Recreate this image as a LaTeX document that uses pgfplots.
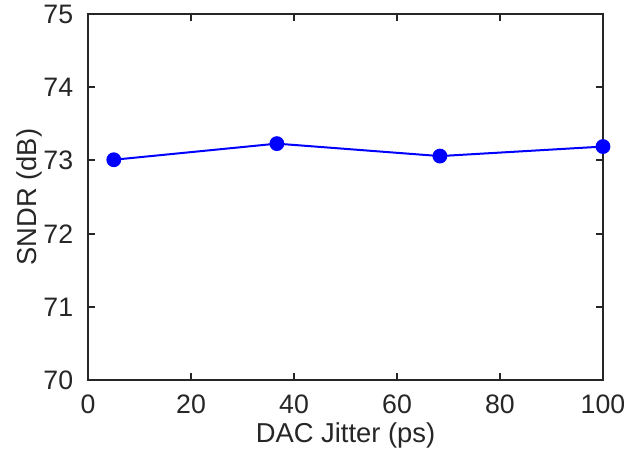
\documentclass[border=0pt]{standalone}
\usepackage{pgfplots}
\pgfplotsset{compat=1.18}
\usepackage{fontspec}
\setmainfont{Liberation Sans}
\definecolor{axgray}{RGB}{38,38,38}
\begin{document}
\begin{tikzpicture}
\begin{axis}[
  scale only axis,
  width=386pt, height=274.5pt,
  xmin=0, xmax=100, ymin=70, ymax=75,
  xtick={0,20,...,100}, ytick={70,71,...,75},
  axis line style={axgray, line width=1.9pt},
  tick style={axgray, line width=1.5pt},
  major tick length=5.5pt,
  tick align=inside,
  ticklabel style={font=\fontsize{20pt}{22pt}\selectfont, text=axgray, inner sep=0pt},
  xticklabel style={anchor=base, yshift=-25pt},
  yticklabel style={anchor=east, xshift=-11pt},
  /pgf/number format/assume math mode=true,
  xlabel={DAC Jitter (ps)}, ylabel={SNDR (dB)},
  label style={font=\fontsize{20.5pt}{23pt}\selectfont, text=axgray, inner sep=0pt},
  xlabel style={at={([yshift=-47pt]axis description cs:0.5,0)}, anchor=base},
  ylabel style={at={([xshift=-38.5pt]axis description cs:0,0.5)}, anchor=base},
]
\addplot[color={rgb,255:red,0;green,0;blue,255}, line width=1.5pt, mark=*, mark size=4.8pt, mark options={fill={rgb,255:red,0;green,0;blue,255}}]
coordinates {(5,73.01) (36.67,73.23) (68.33,73.06) (100,73.19)};
\end{axis}
\path ([xshift=-66pt,yshift=-54.75pt]current axis.south west) rectangle ([xshift=29.25pt,yshift=10.5pt]current axis.north east);
\end{tikzpicture}
\end{document}
